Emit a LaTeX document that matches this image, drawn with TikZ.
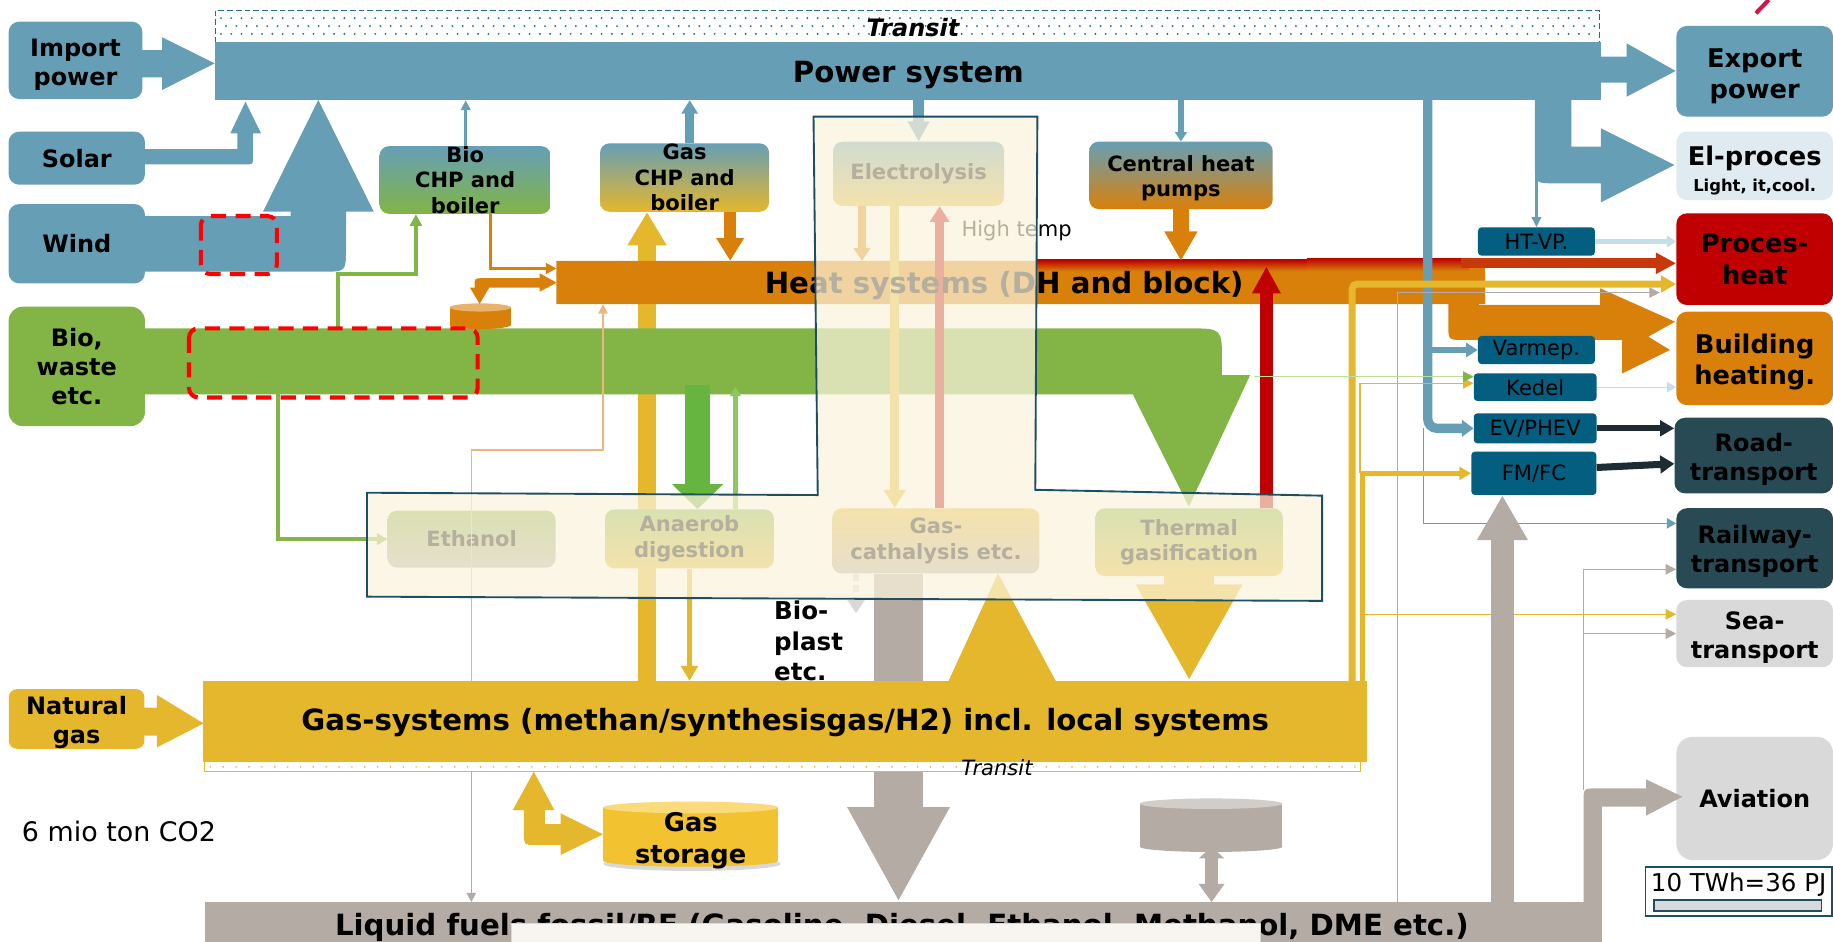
\documentclass[tikz,border=0pt]{standalone}
\usepackage{fontspec}
\setmainfont{DejaVu Sans}
\usetikzlibrary{arrows.meta}
\definecolor{steel}{RGB}{102,159,181}
\definecolor{biog}{RGB}{130,180,70}
\definecolor{goldc}{RGB}{229,183,45}
\definecolor{heatc}{RGB}{217,128,10}
\definecolor{redc}{RGB}{192,0,0}
\definecolor{redarr}{RGB}{200,56,10}
\definecolor{tealbox}{RGB}{4,94,128}
\definecolor{slate}{RGB}{40,74,85}
\definecolor{lgray}{RGB}{217,217,217}
\definecolor{elbg}{RGB}{223,235,240}
\definecolor{liqc}{RGB}{181,171,165}
\definecolor{cream}{RGB}{251,243,220}
\definecolor{framec}{RGB}{27,79,102}
\definecolor{dashc}{RGB}{31,111,139}
\definecolor{bgreen}{RGB}{102,181,62}
\definecolor{lgreen}{RGB}{140,200,95}
\definecolor{paleor}{RGB}{236,182,124}
\definecolor{lblue}{RGB}{198,222,231}
\definecolor{darkarr}{RGB}{28,44,50}
\definecolor{storc}{RGB}{242,194,48}
\definecolor{stortop}{RGB}{250,218,122}
\definecolor{popc}{RGB}{248,244,240}
\definecolor{logo}{RGB}{210,20,70}
\newcommand{\sinkline}[1]{\rule{0pt}{#1pt}}
\begin{document}
\begin{tikzpicture}[x=1pt, y=-1pt,
  box/.style={rounded corners=9pt, inner sep=0pt, align=center,
    font=\fontsize{20.5}{25}\selectfont\bfseries},
  rbox/.style={box, minimum width=134, font=\fontsize{22}{27}\selectfont\bfseries},
  tbox/.style={box, minimum width=134, font=\fontsize{20.5}{25}\selectfont\bfseries},
  mbox/.style={box, rounded corners=8pt, font=\fontsize{18}{22}\selectfont\bfseries},
  sbox/.style={rounded corners=3pt, fill=tealbox, inner sep=0pt,
    font=\fontsize{18}{20}\selectfont},
  bar/.style={inner sep=0pt, font=\fontsize{25}{30}\selectfont\bfseries},
  reddash/.style={draw=red, line width=3.5pt, dash pattern=on 13pt off 8pt,
    rounded corners=8pt}]
\useasboundingbox (0,0) rectangle (1568,805);
\clip (0,0) rectangle (1568,805);

% transit and power system
\foreach \i in {0,...,133} {
  \fill[dashc] (189+\i*8.8,15.5) circle (0.9);
  \fill[dashc] (193.4+\i*8.8,22.3) circle (0.9);
  \fill[dashc] (189+\i*8.8,29) circle (0.9);
}
\draw[dashc, line width=1.3pt, dash pattern=on 5pt off 2.5pt] (184.3,9.1) rectangle (1368.4,36.2);
\node[font=\fontsize{20.5}{24}\selectfont\bfseries\itshape] (transit) at (781,24) {Transit};
\node[bar, fill=steel, minimum width=1185.2, minimum height=49.3] (power) at (776.9,60.85) {};
\node[bar] (powertxt) at (777,63.8) {Power system};

% bars used by name
\path node[inner sep=0pt, minimum width=794.1, minimum height=36.7] (heat) at (873.25,241.65) {};
\path node[inner sep=0pt, minimum width=995.6, minimum height=69] (gassys) at (671.3,617.1) {};
\path node[inner sep=0pt, minimum width=1195, minimum height=43.1] (liquid) at (772.7,793.45) {};

% sources
\node[box, fill=steel, minimum width=114.4, minimum height=66.2] (import) at (64.6,51.6) {\sinkline{22.6}Import\\power};
\node[box, fill=steel, minimum width=116.6, minimum height=45.4] (solar) at (65.7,135.3) {Solar};
\node[box, fill=steel, minimum width=116.6, minimum height=67.9] (wind) at (65.7,208.5) {Wind};
\node[box, fill=biog, minimum width=116.6, minimum height=102.1, rounded corners=12pt] (bio) at (65.7,313.4) {Bio,\\waste\\etc.};
\node[box, fill=goldc, minimum width=116, minimum height=46.5, rounded corners=7pt] (natgas) at (65.5,615) {\sinkline{21.6}Natural\\gas};

% end uses
\node[rbox, fill=steel, minimum height=77.6] (export) at (1501,61) {\sinkline{24.7}Export\\power};
\node[rbox, fill=elbg, minimum height=58.5, font=\fontsize{22}{22}\selectfont\bfseries] (elproc) at (1501,141.9) {\sinkline{24.7}El-proces\\{\fontsize{14}{16}\selectfont Light, it,cool.}};
\node[rbox, fill=redc, minimum height=78.4] (proces) at (1501,221.7) {Proces-\\heat};
\node[rbox, fill=heatc, minimum height=79.9] (building) at (1501,306.6) {\sinkline{22.7}Building\\heating.};
\node[tbox, fill=slate, minimum height=64.7, minimum width=135.6] (road) at (1500.2,389.7) {\sinkline{22.6}Road-\\transport};
\node[tbox, fill=slate, minimum height=68.5] (railway) at (1501,469) {\sinkline{20.6}Railway-\\transport};
\node[tbox, fill=lgray, minimum height=57.5] (sea) at (1501,542) {\sinkline{21.6}Sea-\\transport};
\node[tbox, fill=lgray, minimum height=105.5, rounded corners=14pt] (aviation) at (1501,683) {Aviation};

% conversion plants
\node[mbox, top color=steel, bottom color=biog, minimum width=146.3, minimum height=57] (biochp) at (397.9,154) {Bio\\CHP and\\boiler};
\node[mbox, top color=steel, bottom color=goldc, minimum width=144.6, minimum height=58.5] (gaschp) at (585.6,151.9) {Gas\\CHP and\\boiler};
\node[mbox, top color=steel, bottom color=goldc, minimum width=146.4, minimum height=55] (electro) at (785.8,148.7) {Electrolysis};
\node[mbox, top color=steel, bottom color=heatc, minimum width=157, minimum height=57.6] (chpump) at (1010.2,150) {\sinkline{18.7}Central heat\\pumps};
\path node[inner sep=0pt, minimum width=143.7, minimum height=48.8] (ethanol) at (403.4,461.2) {};
\path node[inner sep=0pt, minimum width=144.5, minimum height=50.5] (anaerob) at (589.8,461) {};
\path node[inner sep=0pt, minimum width=177.2, minimum height=55.7] (gascat) at (800.6,462.7) {};
\path node[inner sep=0pt, minimum width=160.4, minimum height=57.9] (thermal) at (1017.2,463.8) {};

% power flows
\fill[steel] (121,42.8) -- (138.7,42.8) -- (138.7,31.9) -- (183.7,54.2) -- (138.7,77) -- (138.7,66.1) -- (121,66.1) -- cycle;
\fill[steel] (123,127.5) -- (203,127.5) -- (203,114) -- (197,114) -- (210,87) -- (223.3,114) -- (216.5,114) -- (216.5,134) .. controls (216.5,140.6) .. (210,140.6) -- (123,140.6) -- cycle;
\fill[steel] (123,184.8) -- (248.6,184.8) -- (248.6,181) -- (225,181) -- (272.3,85.5) -- (319.7,181) -- (296,181) -- (296,212) .. controls (296,232.4) .. (276,232.4) -- (123,232.4) -- cycle;
\fill[steel] (1369,48.5) -- (1391.5,48.5) -- (1391.5,37.1) -- (1433.4,60.7) -- (1391.5,82.7) -- (1391.5,70.7) -- (1369,70.7) -- cycle;
\fill[steel] (1313,85) -- (1313,140) .. controls (1313,156.8) .. (1330,156.8) -- (1369.5,156.8) -- (1369.5,173.1) -- (1432.4,141.1) -- (1369.5,109.8) -- (1369.5,125.5) -- (1344.2,125.5) -- (1344.2,85) -- cycle;
\draw[steel, line width=8pt, -{Triangle[length=11.5pt,width=13.6pt]}] ([xshift=4.4]gaschp.north) -- ([xshift=4.4]gaschp.north |- power.south);
\draw[steel, line width=2.5pt, -{Triangle[length=8.5pt,width=8pt]}] ([xshift=0.5]biochp.north) -- ([xshift=0.5]biochp.north |- power.south);
\draw[steel, line width=9.3pt, -{Triangle[length=17.1pt,width=17.7pt]}] (power.south -| electro.north) -- (electro.north);
\draw[steel, line width=4.5pt, -{Triangle[length=8pt,width=10pt]}] (power.south -| chpump.north) -- (chpump.north);

% under the bars
\draw[goldc, line width=15.4pt, -{Triangle[length=28.6pt,width=31.6pt]}] (553.5,0 |- gassys.north) -- (553.5,0 |- gaschp.south);
\draw[liqc, line width=41.2pt, -{Triangle[length=81.3pt,width=81.6pt]}] ([xshift=-32]gascat.south) -- ([xshift=-32]gascat.south |- liquid.north);

% biomass
\fill[biog] (123,280.9) -- (1017,280.9) .. controls (1045.3,280.9) .. (1045.3,309) -- (1045.3,320.8) -- (1069.4,320.8) -- (1017,433.4) -- (969,337.3) -- (123,337.3) -- cycle;
\draw[biog, line width=3.4pt, -{Triangle[length=10pt,width=10pt]}] (289.2,280.9) |- (355.8,234.4) -- (355.8,0 |- biochp.south);
\draw[biog, line width=4pt, -{Triangle[length=9pt,width=10pt]}] (237.8,337.3) |- (ethanol.west);
\draw[bgreen, line width=21.3pt, -{Triangle[length=21.4pt,width=42.5pt]}] (596.7,329) -- (596.7,0 |- anaerob.north);
\draw[lgreen, line width=4.5pt, -{Triangle[length=8pt,width=9pt]}] (629,0 |- anaerob.north) -- (629,330.8);

% heat system
\fill[heatc] (heat.north west) -- ([xshift=-15]heat.north east) .. controls (heat.north east) .. ([yshift=-15]heat.north east) -- (heat.south east) -- (heat.south west) -- cycle;
\shade[top color=redc, bottom color=heatc] (886,222.4) rectangle (1118,232);
\shade[top color=redc, bottom color=heatc] (1118,221) rectangle (1256,232);
\draw[redarr, line width=8.7pt, -{Triangle[length=17.3pt,width=17.1pt]}] (1250,225.25) -- (proces.west |- 0,225.25);
\fill[heatc] (1238.9,255) -- (1238.9,278) .. controls (1238.9,290.8) .. (1252,290.8) -- (1387.6,290.8) -- (1387.6,319.5) -- (1428.6,299.4) -- (1410,288) -- (1432.9,275.2) -- (1368.7,246.6) -- (1368.7,260.9) -- (1265,260.9) -- (1265,255) -- cycle;
\draw[heatc, line width=2.2pt, -{Triangle[length=9pt,width=9pt]}] ([xshift=21.5]biochp.south) |- ([yshift=12]heat.west);
\draw[heatc, line width=9.9pt, -{Triangle[length=19.4pt,width=22.5pt]}] ([xshift=39]gaschp.south) -- ([xshift=39]gaschp.south |- heat.north);
\draw[heatc, line width=14.3pt, -{Triangle[length=25.1pt,width=26.6pt]}] (chpump.south) -- (chpump.south |- heat.north);
\fill[heatc] (384.6,263) rectangle (437,278);
\fill[heatc] (410.8,278) ellipse [x radius=26.2, y radius=3.5];
\fill[heatc!60!white] (410.8,263) ellipse [x radius=26.2, y radius=3.5];
\fill[heatc] (402,246) -- (410.3,260) -- (418.5,246) -- (461.7,246) -- (461.7,249.5) -- (476.2,241.8) -- (461.7,233.8) -- (461.7,238) -- (413,238) .. controls (406,238) .. (406,244) -- (406,246) -- cycle;

% electrolysis and cathalysis
\draw[heatc, line width=6.9pt, -{Triangle[length=10.9pt,width=14pt]}] ([xshift=-48.4]electro.south) -- ([xshift=-48.4]electro.south |- heat.north);
\draw[goldc, line width=7.9pt, -{Triangle[length=15.7pt,width=18pt]}] ([xshift=-20.4]electro.south) -- ([xshift=-20.4]electro.south |- gascat.north);
\draw[redc, line width=7.6pt, -{Triangle[length=13.4pt,width=16pt]}] ([xshift=3.2]gascat.north) -- ([xshift=3.2]gascat.north |- electro.south);
\node[font=\fontsize{18}{20}\selectfont, anchor=west] (hightemp) at (819,197.3) {High temp};
\node[bar] (heattxt) at (859,244.4) {Heat systems (DH and block)};
\draw[goldc, line width=5pt, -{Triangle[length=12.8pt,width=14.2pt]}] (anaerob.south) -- (anaerob.south |- gassys.north);
\draw[lgray, line width=5pt, dash pattern=on 6pt off 4pt, -{Triangle[length=11.4pt,width=14.1pt]}] (732.3,0 |- gascat.south) -- (732.3,524.7);
\fill[goldc] (811.2,583) -- (853.7,490.5) -- (903.4,583) -- cycle;
\draw[goldc, line width=42.6pt, -{Triangle[length=82.6pt,width=85.2pt]}] (thermal.south) -- (thermal.south |- gassys.north);
\draw[redc, line width=10.7pt, -{Triangle[length=23pt,width=23pt]}] ([xshift=66.1]thermal.north) -- (1083.3,228);

% fuel production plants
\node[mbox, top color=biog, bottom color=liqc, minimum width=143.7, minimum height=48.8] at (ethanol) {Ethanol};
\node[mbox, top color=biog, bottom color=goldc, minimum width=144.5, minimum height=50.5] at (anaerob) {Anaerob\\digestion};
\node[mbox, top color=goldc, bottom color=liqc, minimum width=177.2, minimum height=55.7] at (gascat) {Gas-\\cathalysis etc.};
\node[mbox, top color=biog, bottom color=goldc, minimum width=160.4, minimum height=57.9] at (thermal) {Thermal\\gasification};
\draw[paleor, line width=1.3pt, -{Triangle[length=8pt,width=8pt]}] (403.2,583) |- (515.8,385) -- (515.8,0 |- heat.south);
\draw[liqc, line width=1.3pt, -{Triangle[length=8pt,width=8pt]}] (403.2,583) -- (403.2,0 |- liquid.north);

% small converters
\node[sbox, minimum width=100, minimum height=24.2] (htvp) at (1314.3,206.6) {HT-VP.};
\node[sbox, minimum width=100, minimum height=24] (varmep) at (1314.3,299.4) {Varmep.};
\node[sbox, minimum width=105, minimum height=23.6] (kedel) at (1313.2,331.2) {Kedel};
\node[sbox, minimum width=105, minimum height=25.6] (evphev) at (1313.2,366.4) {EV/PHEV};
\node[sbox, minimum width=107, minimum height=37] (fmfc) at (1312.1,404.9) {FM/FC};

\draw[steel, line width=2.5pt, -{Triangle[length=8.6pt,width=8pt]}] (power.south -| htvp.north) -- (htvp.north);
\draw[lblue, line width=5pt, -{Triangle[length=8pt,width=10pt]}] (htvp.east) -- (htvp.east -| proces.west);
\draw[steel, line width=8pt, rounded corners=8pt, -{Triangle[length=10pt,width=14pt]}] (1221.3,0 |- power.south) |- (evphev.west);
\draw[steel, line width=5pt, -{Triangle[length=10pt,width=12pt]}] (1221.3,0 |- varmep.west) -- (varmep.west);
\draw[steel, line width=1pt, -{Triangle[length=8pt,width=9pt]}] (1217.5,366) |- ([yshift=21.3]railway.west);
\draw[liqc, line width=1pt, -{Triangle[length=9pt,width=9pt]}] (1195.5,0 |- liquid.north) |- ([xshift=-14,yshift=-28.6]proces.west);
\draw[goldc, line width=6pt, rounded corners=4pt, -{Triangle[length=13pt,width=14pt]}] (1156.7,0 |- gassys.north) |- ([yshift=-21.3]proces.west);
\draw[goldc, line width=4pt, -{Triangle[length=10pt,width=11pt]}] (1165.5,0 |- gassys.north) |- (fmfc.west);
\draw[goldc, line width=1.3pt, -{Triangle[length=9pt,width=9pt]}] (1163.5,0 |- fmfc.west) |- ([yshift=3.3]kedel.west);
\draw[goldc, line width=1pt, -{Triangle[length=9pt,width=9pt]}] (1166,0 |- 0,525.5) -- ([yshift=16.5]sea.west);
\draw[lgreen!60!white, line width=1.2pt, -{Triangle[length=9pt,width=9pt,color=biog]}] (1073,322.2) -- ([yshift=9]kedel.west);
\draw[lblue, line width=1pt, -{Triangle[length=8pt,width=9pt]}] (kedel.east) -- (kedel.east -| building.west);
\draw[darkarr, line width=5pt, -{Triangle[length=12pt,width=13pt]}] (evphev.east) -- (evphev.east -| road.west);
\draw[darkarr, line width=6pt, -{Triangle[length=12pt,width=15pt]}] ([yshift=5]fmfc.east) -- ([yshift=-7]road.west);

% gas system
\fill[goldc] (gassys.north west) rectangle (gassys.south east);
\node[bar] (gastxt) at (671.7,618) {Gas-systems (methan/synthesisgas/H2) incl. local systems};
\filldraw[fill=white, draw=goldc, line width=1pt] (175,651.6) rectangle (1164,660);
\foreach \i in {0,...,89} \fill[goldc] (180+\i*11,656) circle (0.8);
\node[font=\fontsize{18}{20}\selectfont\itshape] (transit2) at (852.8,656.5) {Transit};
\fill[goldc] (123,605.4) -- (134.3,605.4) -- (134.3,594.5) -- (174.2,618.8) -- (134.3,639.3) -- (134.3,629.3) -- (123,629.3) -- cycle;
\fill[goldc] (438.7,692.9) -- (456.6,660.1) -- (474.2,692.9) -- (466.1,692.9) -- (466.1,704.9) -- (479.6,704.9) -- (479.6,695.8) -- (515.8,713.7) -- (479.6,731.4) -- (479.6,722.8) -- (458,722.8) .. controls (448.2,722.8) .. (448.2,713) -- (448.2,692.9) -- cycle;
\fill[black!30, opacity=0.5] (592,739) ellipse [x radius=76, y radius=6];
\fill[storc] (516,690.7) rectangle (665.8,736.4);
\fill[storc] (590.9,736.4) ellipse [x radius=74.9, y radius=5];
\fill[stortop] (590.9,690.7) ellipse [x radius=74.9, y radius=5];
\node[font=\fontsize{22}{27}\selectfont\bfseries, align=center] (storage) at (590.9,719) {Gas\\storage};

% liquid fuels
\fill[liqc] (975,687.5) rectangle (1097,724.3);
\fill[liqc] (1036,724.3) ellipse [x radius=61, y radius=4.5];
\fill[liqc!60!white] (1036,687.5) ellipse [x radius=61, y radius=4.5];
\draw[liqc, line width=10.7pt, {Triangle[length=10pt,width=21.3pt]}-{Triangle[length=15.7pt,width=21.3pt]}] (1036.4,724.3) -- (1036.4,0 |- liquid.north);
\draw[liqc, line width=20pt, -{Triangle[length=38.5pt,width=40.8pt]}] ([xshift=-26.9]fmfc.south |- liquid.north) -- ([xshift=-26.9]fmfc.south);
\fill[liqc] (1354.6,780) -- (1354.6,686) .. controls (1354.6,674.4) .. (1366,674.4) -- (1408.1,674.4) -- (1408.1,666.7) -- (1439.2,681.5) -- (1408.1,697.7) -- (1408.1,690) -- (1370.2,690) -- (1370.2,780) -- cycle;
\draw[liqc, line width=1pt, -{Triangle[length=9pt,width=9pt]}] (1354.6,676) |- ([yshift=-18]railway.west);
\draw[liqc, line width=1pt, -{Triangle[length=9pt,width=9pt]}] (1354.6,0 |- sea.west) -- (sea.west);
\fill[liqc] (liquid.north west) rectangle (liquid.south east);
\node[bar, anchor=base, font=\fontsize{25}{30}\selectfont\bfseries] (liqtxt) at (771.5,800.5) {Liquid fuels fossil/RE (Gasoline, Diesel, Ethanol, Methanol, DME etc.)};
\filldraw[fill=popc, draw=black!15] (437.6,789.8) rectangle (1078.4,812);

% faded transition area
\path[fill=cream, fill opacity=0.72, draw=framec, line width=1.6pt] (695.9,99.8) -- (887.4,99.8) -- (885.6,419) -- (1131,424) -- (1131,514) -- (313.9,510.4) -- (313.9,421.5) -- (699.5,423.5) -- cycle;

% marks and notes
\draw[reddash] (171.8,184.8) rectangle (236.8,234.4);
\draw[reddash] (161.7,280.9) rectangle (408.6,340);
\node[font=\fontsize{21}{26.4}\selectfont\bfseries, align=left, anchor=north west, inner sep=0pt] (bioplast) at (662,513.5) {Bio-\\plast\\etc.};
\node[font=\fontsize{23}{26}\selectfont, anchor=west, inner sep=0pt] (co2) at (18.6,711.4) {6 mio ton CO2};
\draw[framec, line width=1.5pt] (1407.5,741.4) rectangle (1567,783.6);
\filldraw[fill=lgray, draw=framec, line width=1.2pt] (1415,770) rectangle (1558.3,779.3);
\node[font=\fontsize{21}{24}\selectfont, anchor=west, inner sep=0pt] (scale) at (1412,757) {10 TWh=36 PJ};
\draw[logo, line width=3.5pt] (1502,11.4) -- (1513,0);
\end{tikzpicture}
\end{document}
